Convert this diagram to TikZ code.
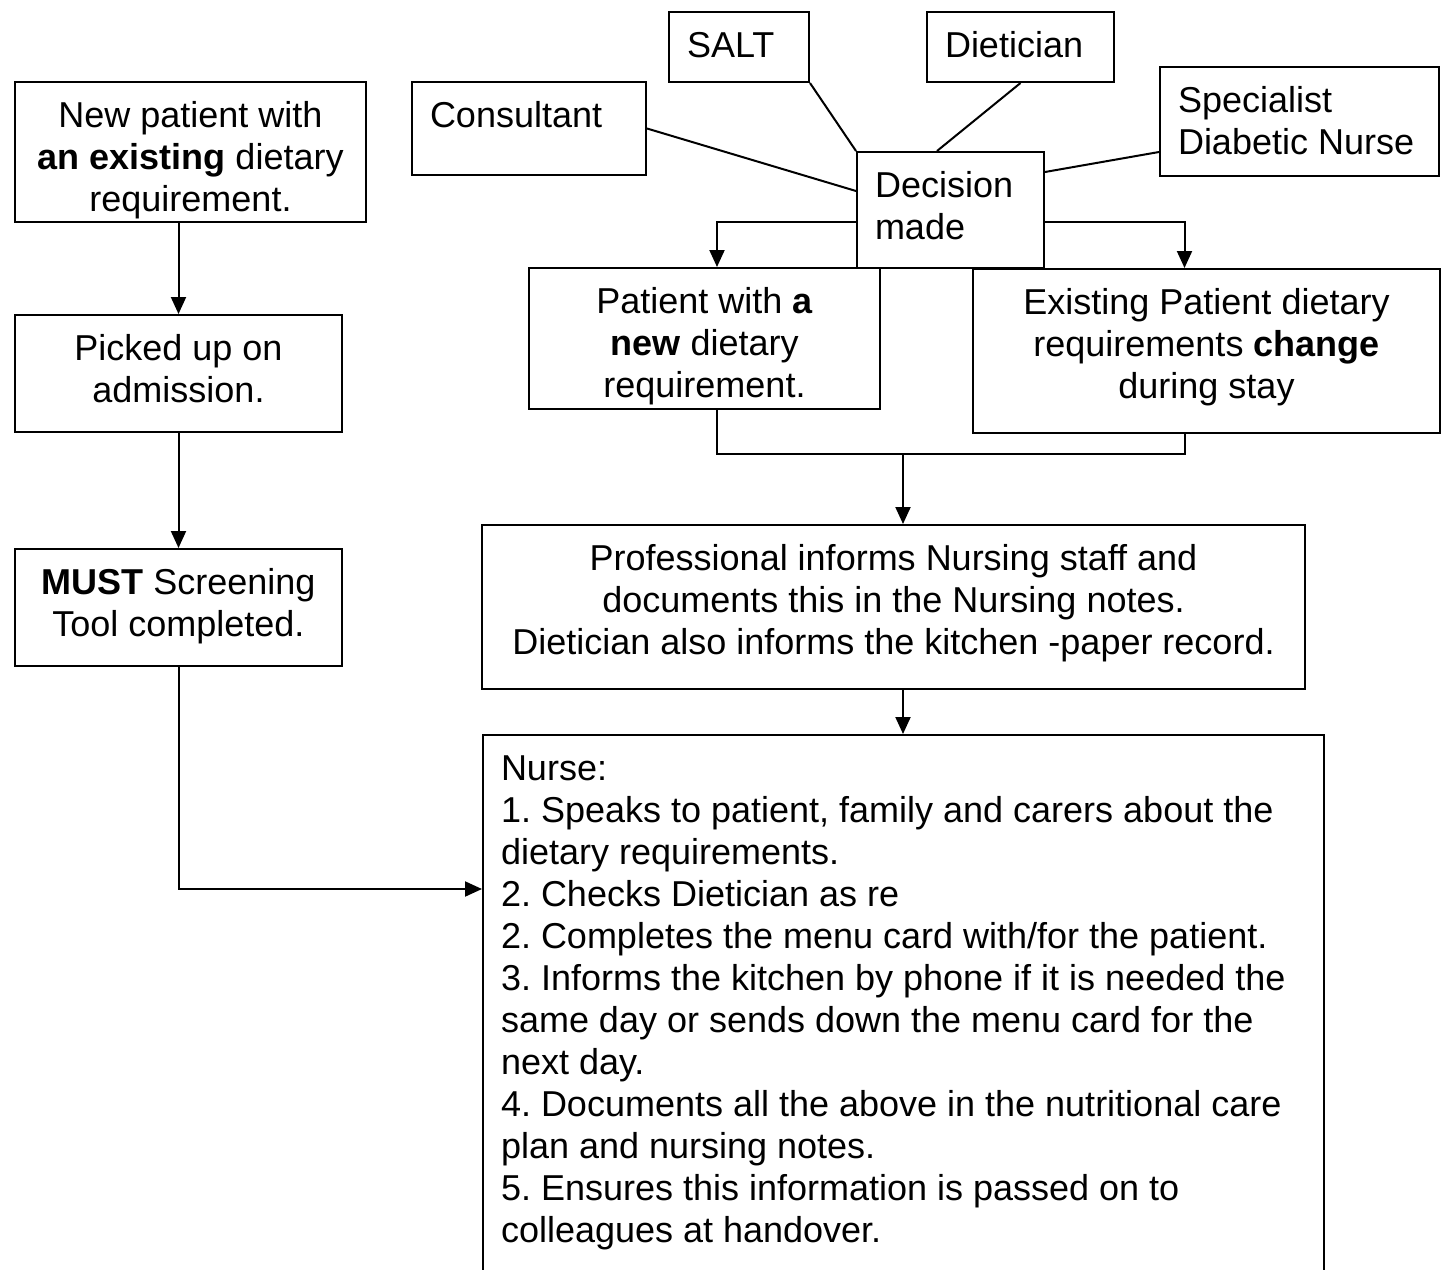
\documentclass[tikz,border=0pt]{standalone}
\usepackage{fontspec}
\setmainfont{Liberation Sans}
\usetikzlibrary{arrows.meta}
\frenchspacing
% text of a box: width, height, alignment, lines
\newcommand{\boxtxt}[4]{\parbox[c][#2pt][t]{\dimexpr #1pt-36pt\relax}{#3\vspace{15.6pt}\leavevmode\strut#4}}
\tikzset{
	stepbox/.style={draw, line width=2pt, inner xsep=18pt, inner ysep=0pt, anchor=north west},
	arr/.style={line width=2pt, -{Triangle[width=15pt,length=17pt]}},
	link/.style={line width=2pt}
}
\begin{document}
\begin{tikzpicture}[x=1pt,y=-1pt,line join=miter,font=\fontsize{36}{42}\selectfont]
			\useasboundingbox (0,0) rectangle (1443,1269);
			\clip (0,0) rectangle (1443,1269);
			% left column
			\node[stepbox] (newpt) at (14,81) {\boxtxt{351}{140}{\centering}{New patient with\\\textbf{an existing} dietary\\requirement.}};
			\node[stepbox] (pickup) at (14,314) {\boxtxt{327}{117}{\centering}{Picked up on\\admission.}};
			\node[stepbox] (must) at (14,548) {\boxtxt{327}{117}{\centering}{\textbf{MUST} Screening\\Tool completed.}};
			% professionals
			\node[stepbox] (consult) at (411,81) {\boxtxt{234}{93}{\raggedright}{Consultant}};
			\node[stepbox] (salt) at (668,11) {\boxtxt{140}{70}{\raggedright}{SALT}};
			\node[stepbox] (diet) at (926,11) {\boxtxt{187}{70}{\raggedright}{Dietician}};
			\node[stepbox] (spec) at (1159,66) {\boxtxt{279}{109}{\raggedright}{Specialist\\Diabetic Nurse}};
			\node[stepbox] (dec) at (856,151) {\boxtxt{187}{116}{\raggedright}{Decision\\made}};
			% outcomes
			\node[stepbox] (newpat) at (528,267) {\boxtxt{351}{141}{\centering}{Patient with \textbf{a}\\\textbf{new} dietary\\requirement.}};
			\node[stepbox] (exist) at (972,268) {\boxtxt{467}{164}{\centering}{Existing Patient dietary\\requirements \textbf{change}\\during stay}};
			\node[stepbox] (prof) at (481,524) {\boxtxt{823}{164}{\centering}{Professional informs Nursing staff and\\documents this in the Nursing notes.\\Dietician also informs the kitchen -paper record.}};
			\node[stepbox] (nurse) at (482,734) {\boxtxt{841}{560}{\raggedright}{Nurse:\\
				1. Speaks to patient, family and carers about the\\
				dietary requirements.\\
				2. Checks Dietician as re\\
				2. Completes the menu card with/for the patient.\\
				3. Informs the kitchen by phone if it is needed the\\
				same day or sends down the menu card for the\\
				next day.\\
				4. Documents all the above in the nutritional care\\
				plan and nursing notes.\\
				5. Ensures this information is passed on to\\
				colleagues at handover.}};
			\coordinate (mrg) at (903,454);
			% connectors
			\draw[arr] (newpt.south -| pickup.north) -- (pickup.north);
			\draw[arr] (pickup.south) -- (must.north);
			\draw[arr] (must.south) |- ([yshift=-155pt]nurse.north west);
			\draw[link] (consult.east) -- ([yshift=19pt]dec.west);
			\draw[link] (salt.south east) -- (dec.north west);
			\draw[link] (diet.south) -- ([xshift=-13.5pt]dec.north);
			\draw[link] ([yshift=-30.5pt]spec.west) -- ([yshift=38pt]dec.east);
			\draw[arr] ([yshift=-12pt]dec.west) -| ([xshift=12.5pt]newpat.north);
			\draw[arr] ([yshift=-12pt]dec.east) -| ([xshift=-22pt]exist.north);
			\draw[link] ([xshift=12.5pt]newpat.south) |- (mrg) -| ([xshift=-22pt]exist.south);
			\draw[arr] (mrg) -- (mrg |- prof.north);
			\draw[arr] (mrg |- prof.south) -- (mrg |- nurse.north);
		\end{tikzpicture}
\end{document}
